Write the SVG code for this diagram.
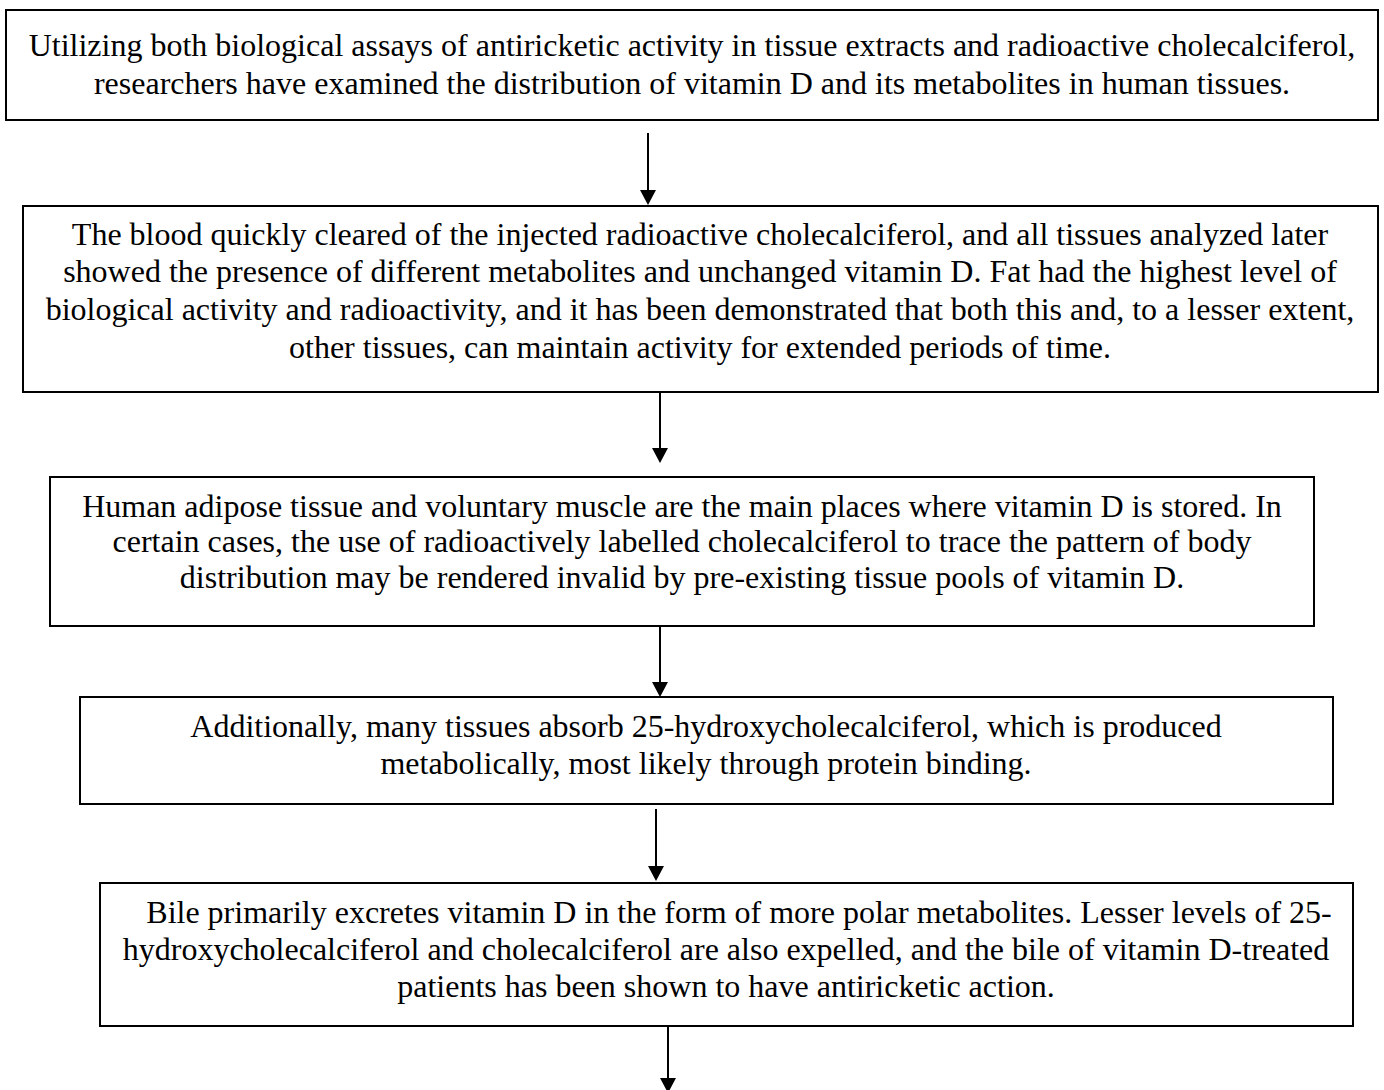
<svg xmlns="http://www.w3.org/2000/svg" width="1384" height="1090" viewBox="0 0 1384 1090">
<style>
.box{fill:#fff;stroke:#000;stroke-width:2}
.t{font-family:"Liberation Serif","Times New Roman",serif;font-size:32px;fill:#000;text-anchor:middle}
.c{stroke:#000;stroke-width:2;fill:none}
.h{fill:#000}
</style>
<rect width="1384" height="1090" fill="#fff"/>
<g id="node1">
<rect class="box" x="6" y="10" width="1372" height="110"/>
<text class="t" x="692" y="56">Utilizing both biological assays of antiricketic activity in tissue extracts and radioactive cholecalciferol,</text>
<text class="t" x="692" y="94">researchers have examined the distribution of vitamin D and its metabolites in human tissues.</text>
</g>
<g id="node2">
<rect class="box" x="23" y="206" width="1355" height="186"/>
<text class="t" x="700" y="245">The blood quickly cleared of the injected radioactive cholecalciferol, and all tissues analyzed later</text>
<text class="t" x="700" y="282">showed the presence of different metabolites and unchanged vitamin D. Fat had the highest level of</text>
<text class="t" x="700" y="320">biological activity and radioactivity, and it has been demonstrated that both this and, to a lesser extent,</text>
<text class="t" x="700" y="358">other tissues, can maintain activity for extended periods of time.</text>
</g>
<g id="node3">
<rect class="box" x="50" y="477" width="1264" height="149"/>
<text class="t" x="682" y="517">Human adipose tissue and voluntary muscle are the main places where vitamin D is stored. In</text>
<text class="t" x="682" y="552">certain cases, the use of radioactively labelled cholecalciferol to trace the pattern of body</text>
<text class="t" x="682" y="588">distribution may be rendered invalid by pre-existing tissue pools of vitamin D.</text>
</g>
<g id="node4">
<rect class="box" x="80" y="697" width="1253" height="107"/>
<text class="t" x="706" y="737">Additionally, many tissues absorb 25-hydroxycholecalciferol, which is produced</text>
<text class="t" x="706" y="774">metabolically, most likely through protein binding.</text>
</g>
<g id="node5">
<rect class="box" x="100" y="883" width="1253" height="143"/>
<text class="t" x="739" y="923">Bile primarily excretes vitamin D in the form of more polar metabolites. Lesser levels of 25-</text>
<text class="t" x="726" y="960">hydroxycholecalciferol and cholecalciferol are also expelled, and the bile of vitamin D-treated</text>
<text class="t" x="726" y="997">patients has been shown to have antiricketic action.</text>
</g>
<g id="connectors">
<line class="c" x1="648" y1="133" x2="648" y2="192"/>
<polygon class="h" points="640,190 656,190 648,205"/>
<line class="c" x1="660" y1="392" x2="660" y2="450"/>
<polygon class="h" points="652,448 668,448 660,463"/>
<line class="c" x1="660" y1="626" x2="660" y2="684"/>
<polygon class="h" points="652,682 668,682 660,697"/>
<line class="c" x1="656" y1="809" x2="656" y2="868"/>
<polygon class="h" points="648,866 664,866 656,881"/>
<line class="c" x1="668" y1="1026" x2="668" y2="1080"/>
<polygon class="h" points="660,1078 676,1078 668,1093"/>
</g>
</svg>
